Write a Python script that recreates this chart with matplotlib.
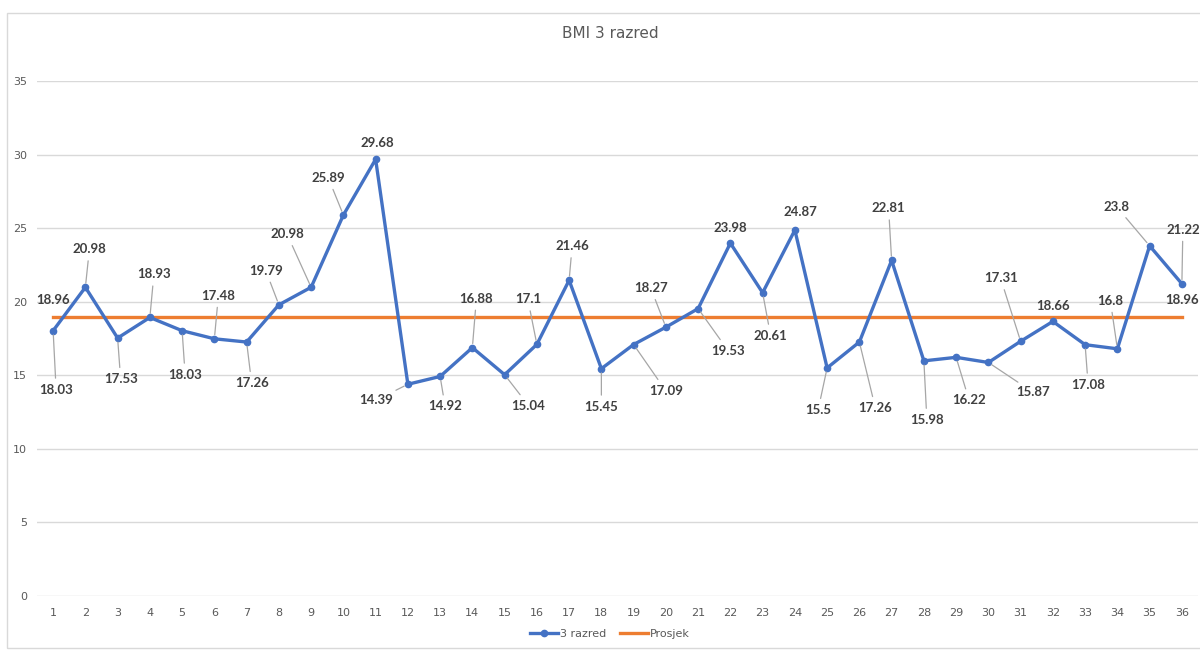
import matplotlib
matplotlib.use("Agg")
import matplotlib.pyplot as plt
from matplotlib.patches import Rectangle

# ---- data ----
categories = list(range(1, 37))
bmi = [18.03, 20.98, 17.53, 18.93, 18.03, 17.48, 17.26, 19.79, 20.98, 25.89,
       29.68, 14.39, 14.92, 16.88, 15.04, 17.1, 21.46, 15.45, 17.09, 18.27,
       19.53, 23.98, 20.61, 24.87, 15.5, 17.26, 22.81, 15.98, 16.22, 15.87,
       17.31, 18.66, 17.08, 16.8, 23.8, 21.22]
prosjek = [18.96] * 36
series_names = ["3 razred", "Prosjek"]
title = "BMI 3 razred"
y_ticks = [0, 5, 10, 15, 20, 25, 30, 35]

# ---- label offsets (pixels, x right / y down) ----
label_offsets = [(3, 59), (4, -38), (3, 41), (4, -43), (3, 44), (4, -43), (5, 41),
                 (-13, -34), (-24, -53), (-15, -37), (2, -16), (-32, 16), (5, 30),
                 (4, -49), (24, 31), (-9, -45), (3, -34), (0, 38), (32, 46),
                 (-15, -39), (30, 42), (0, -15), (8, 43), (6, -18), (-9, 42),
                 (16, 66), (-3, -52), (3, 59), (13, 43), (45, 30), (-20, -63),
                 (0, -15), (3, 40), (-7, -48), (-33, -39), (1, -54)]

BLUE = "#4472C4"
ORANGE = "#ED7D31"
GRID = "#D9D9D9"
TXT = "#595959"
LBL = "#404040"

fig = plt.figure(figsize=(12, 6.5), dpi=100)
fig.patches.append(Rectangle((7 / 1200, 1 - 648 / 650), 1.1, (648 - 13) / 650,
                             transform=fig.transFigure, fill=False,
                             edgecolor=GRID, lw=1.0))
ax = fig.add_axes([37 / 1200, 1 - 596 / 650, (1198 - 37) / 1200, (596 - 81) / 650])

ax.plot(categories, bmi, color=BLUE, lw=2.4, marker="o", ms=4.5,
        label=series_names[0], zorder=3)
ax.plot(categories, prosjek, color=ORANGE, lw=2.4, label=series_names[1], zorder=2)

ax.set_xlim(0.5, 36.5)
ax.set_ylim(0, 35)
ax.set_yticks(y_ticks)
ax.set_xticks(categories)
ax.set_xticklabels([str(c) for c in categories])
ax.grid(axis="y", color=GRID, lw=1)
ax.set_axisbelow(True)
for s in ax.spines.values():
    s.set_visible(False)
ax.tick_params(axis="both", length=0, labelsize=8, labelcolor=TXT)
ax.tick_params(axis="x", pad=9)
ax.tick_params(axis="y", pad=7)

for x, v, (dx, dy) in zip(categories, bmi, label_offsets):
    dist = (dx ** 2 + dy ** 2) ** 0.5
    arrow = dict(arrowstyle="-", color="#A6A6A6", lw=0.9, shrinkA=2, shrinkB=3) if dist > 25 else None
    ax.annotate(f"{v:g}", xy=(x, v), xytext=(dx, -dy), textcoords="offset pixels",
                ha="center", va="center", fontsize=9.5, fontweight="bold", color=LBL,
                family=["Lato", "DejaVu Sans"], arrowprops=arrow, zorder=4)

# average labels at both ends
for x in (categories[0], categories[-1]):
    ax.annotate(f"{prosjek[0]:g}", xy=(x, prosjek[0]), xytext=(0, 17),
                textcoords="offset pixels", ha="center", va="center", fontsize=9.5,
                fontweight="bold", color=LBL, family=["Lato", "DejaVu Sans"], zorder=4)

fig.text(610 / 1200, 1 - 33 / 650, title, ha="center", va="center", fontsize=11, color=TXT)

leg = fig.legend(loc="center", bbox_to_anchor=(610 / 1200, 1 - 634 / 650), ncol=2,
                 frameon=False, fontsize=8, handlelength=2.5, columnspacing=1.2,
                 handletextpad=0.2)
for t in leg.get_texts():
    t.set_color(TXT)

fig.savefig("out.png", dpi=100)
